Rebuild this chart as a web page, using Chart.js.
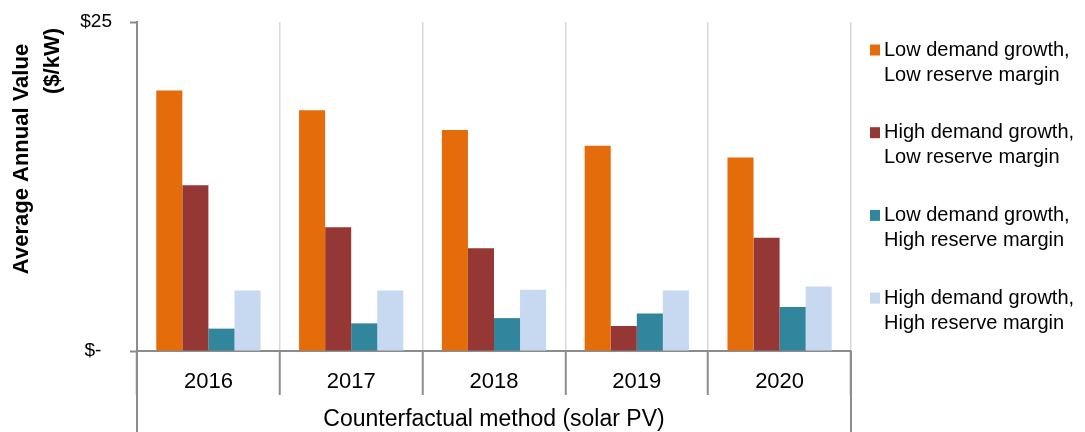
<!DOCTYPE html>
<html>
<head>
<meta charset="utf-8">
<title>Average Annual Value of solar PV</title>
<script src="https://cdn.jsdelivr.net/npm/chart.js@4/dist/chart.umd.min.js"></script>
<style>
  html, body { margin: 0; padding: 0; background: #ffffff; }
  #wrap { width: 1085px; height: 432px; }
</style>
</head>
<body>
<div id="wrap"><canvas id="chart" width="1085" height="432"></canvas></div>
<script>
// Categories along the x axis
const years = ['2016', '2017', '2018', '2019', '2020'];

// Scenario names (two-line legend entries)
const seriesNames = [
  ['Low demand growth,', 'Low reserve margin'],
  ['High demand growth,', 'Low reserve margin'],
  ['Low demand growth,', 'High reserve margin'],
  ['High demand growth,', 'High reserve margin']
];

// Average annual value, $/kW
const lowDemandLowReserve   = [19.8, 18.3, 16.8, 15.6, 14.7];
const highDemandLowReserve  = [12.6, 9.4, 7.8, 1.9, 8.6];
const lowDemandHighReserve  = [1.7, 2.1, 2.5, 2.85, 3.35];
const highDemandHighReserve = [4.6, 4.6, 4.65, 4.6, 4.9];

// Y tick values
const yTicks = [0, 25];

const xAxisTitle = 'Counterfactual method (solar PV)';
const yAxisTitle = ['Average Annual Value', '($/kW)'];

const seriesColors = ['#E46C0A', '#953735', '#31859C', '#C6D9F1'];
const seriesValues = [lowDemandLowReserve, highDemandLowReserve, lowDemandHighReserve, highDemandHighReserve];

const FONT = "'Liberation Sans', Arial, sans-serif";
const AXIS_GREY = '#8c8c8c';

// Rotated two-line y-axis title
const yTitlePlugin = {
  id: 'yTitle',
  afterDraw(chart) {
    const ctx = chart.ctx;
    ctx.save();
    ctx.fillStyle = '#000';
    ctx.font = 'bold 22px ' + FONT;
    ctx.textAlign = 'center';
    ctx.textBaseline = 'alphabetic';
    const spots = [{ x: 28, y: 159 }, { x: 59, y: 61 }];
    yAxisTitle.forEach((line, i) => {
      ctx.save();
      ctx.translate(spots[i].x, spots[i].y);
      ctx.rotate(-Math.PI / 2);
      ctx.fillText(line, 0, 0);
      ctx.restore();
    });
    ctx.restore();
  }
};

// Outer frame lines running down through the category label band
const frameLinesPlugin = {
  id: 'frameLines',
  afterDraw(chart) {
    const { ctx, chartArea } = chart;
    ctx.save();
    ctx.strokeStyle = AXIS_GREY;
    ctx.lineWidth = 2;
    [chartArea.left, chartArea.right].forEach(x => {
      ctx.beginPath();
      ctx.moveTo(x, chartArea.bottom);
      ctx.lineTo(x, chart.height);
      ctx.stroke();
    });
    ctx.restore();
  }
};

// Legend on the right with square markers and two-line labels
const sideLegendPlugin = {
  id: 'sideLegend',
  afterDraw(chart) {
    const ctx = chart.ctx;
    ctx.save();
    ctx.font = '20px ' + FONT;
    ctx.textAlign = 'left';
    ctx.textBaseline = 'middle';
    chart.data.datasets.forEach((ds, i) => {
      const y0 = 50 + i * 82.7;
      ctx.fillStyle = ds.backgroundColor;
      ctx.fillRect(870, y0 - 5.5, 10, 11);
      ctx.fillStyle = '#000';
      ds.legendLines.forEach((line, j) => {
        ctx.fillText(line, 884, y0 + j * 25);
      });
    });
    ctx.restore();
  }
};

new Chart(document.getElementById('chart'), {
  type: 'bar',
  data: {
    labels: years,
    datasets: seriesValues.map((vals, i) => ({
      label: seriesNames[i].join(' '),
      legendLines: seriesNames[i],
      data: vals,
      backgroundColor: seriesColors[i],
      borderWidth: 0,
      categoryPercentage: 0.73,
      barPercentage: 1.0
    }))
  },
  options: {
    responsive: false,
    animation: false,
    events: [],
    layout: { padding: { top: 22, right: 234, bottom: 0, left: 0 } },
    plugins: {
      legend: { display: false },
      tooltip: { enabled: false }
    },
    scales: {
      x: {
        grid: {
          offset: true,
          color: '#d9d9d9',
          lineWidth: 1.5,
          tickColor: AXIS_GREY,
          tickLength: 44,
          tickWidth: 2
        },
        border: { color: AXIS_GREY, width: 2 },
        ticks: {
          color: '#000',
          font: { family: FONT, size: 22 },
          padding: -26
        },
        title: {
          display: true,
          text: xAxisTitle,
          color: '#000',
          font: { family: FONT, size: 23 },
          padding: { top: 0, bottom: -1 }
        },
        afterFit(scale) { scale.height = 81; }
      },
      y: {
        min: 0,
        max: 25,
        afterBuildTicks(scale) { scale.ticks = yTicks.map(v => ({ value: v })); },
        grid: {
          drawOnChartArea: false,
          tickLength: 7,
          tickColor: AXIS_GREY,
          tickWidth: 2
        },
        border: { color: AXIS_GREY, width: 2 },
        ticks: {
          color: '#000',
          font: { family: FONT, size: 19 },
          padding: 18,
          callback: v => (v === 0 ? '$-  ' : '$' + v)
        },
        afterFit(scale) {
          scale.width = 137;
          scale.paddingTop = 0;
          scale.paddingBottom = 0;
        }
      }
    }
  },
  plugins: [yTitlePlugin, frameLinesPlugin, sideLegendPlugin]
});
</script>
</body>
</html>
